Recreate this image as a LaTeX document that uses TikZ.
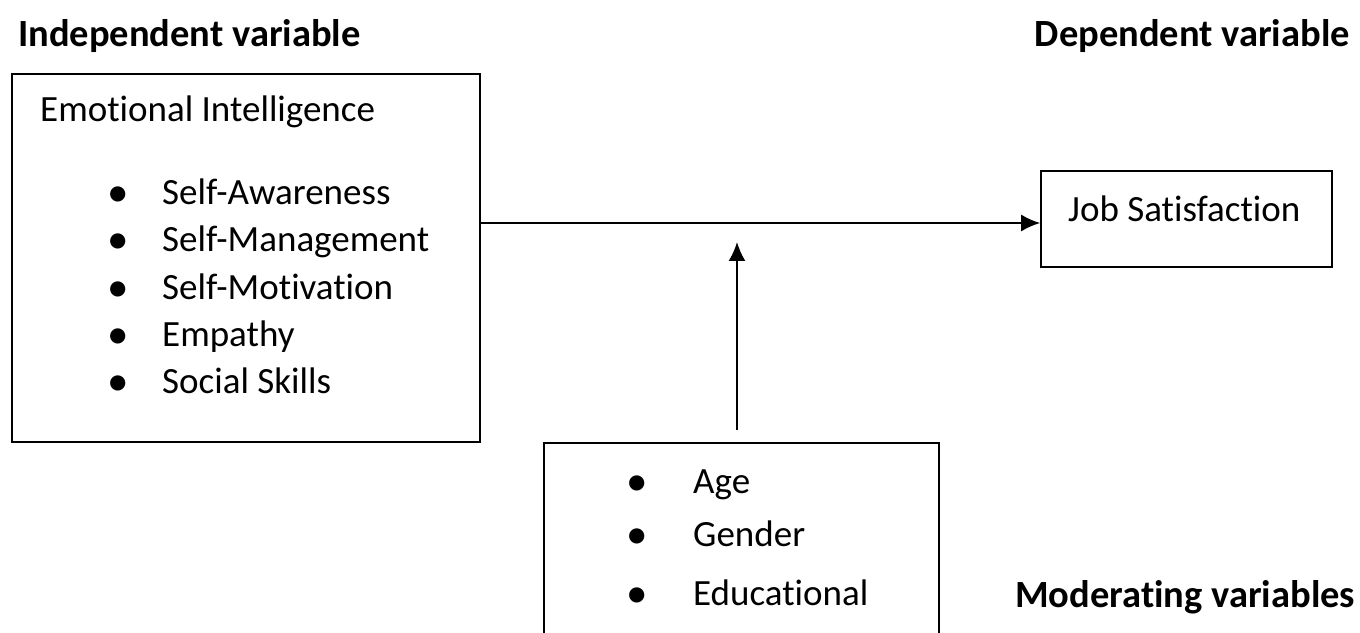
\documentclass[tikz,border=0pt]{standalone}
\usepackage{fontspec}
\setmainfont{Carlito}[Ligatures=NoCommon]
\usetikzlibrary{arrows.meta,positioning}
\newcommand{\bigdot}{\raisebox{-2pt}{\fontsize{43}{43}\selectfont\textbullet}}

\begin{document}
\begin{tikzpicture}[x=1pt,y=1pt,node distance={47pt},
    box/.style={draw, line width=1.6pt, inner sep=0pt},
    dot/.style={inner sep=0pt, anchor=base, font=\fontsize{37}{44}\selectfont},
    item/.style={inner sep=0pt, anchor=base west, font=\fontsize{37}{44}\selectfont},
    head/.style={inner sep=0pt, font=\fontsize{38.5}{46}\selectfont\bfseries},
    link/.style={line width=2pt, -{Latex[length=19pt,width=17pt]}}]
    \clip (0,0) rectangle (1360,632);

    \node[head, anchor=base west] (hind) at (18,585) {Independent variable};
    \node[head, anchor=base east] (hdep) at (1350,585) {Dependent variable};
    \node[head, anchor=base west] (hmod) at (1015,25) {Moderating variables};

    \node[box, minimum width=468pt, minimum height=368pt] (ind) at (246,374) {};
    \node[item] (ei) at (40,510) {Emotional Intelligence};

    \node[dot] (d1) at (118,427) {\bigdot};
    \node[dot] (d2) [below of=d1] {\bigdot};
    \node[dot] (d3) [below of=d2, yshift=-1pt] {\bigdot};
    \node[dot] (d4) [below of=d3] {\bigdot};
    \node[dot] (d5) [below of=d4] {\bigdot};
    \node[item] (t1) at ([xshift=44pt]d1.base) {Self-Awareness};
    \node[item] (t2) at ([xshift=44pt]d2.base) {Self-Management};
    \node[item] (t3) at ([xshift=44pt]d3.base) {Self-Motivation};
    \node[item] (t4) at ([xshift=44pt]d4.base) {Empathy};
    \node[item] (t5) at ([xshift=44pt]d5.base) {Social Skills};

    \node[box, minimum width=291pt, minimum height=96pt] (dep) at (1186.5,413) {};
    \node[item] (js) at (1068,410) {Job Satisfaction};

    \node[box, minimum width=395pt, minimum height=249pt] (mod) at (741.5,64.5) {};
    \node[dot] (m1) at (637,138) {\bigdot};
    \node[dot] (m2) [below of=m1, yshift=-6pt] {\bigdot};
    \node[dot] (m3) [below of=m2, yshift=-11pt] {\bigdot};
    \node[item] (a1) at ([xshift=56pt]m1.base) {Age};
    \node[item] (a2) at ([xshift=56pt]m2.base) {Gender};
    \node[item] (a3) at ([xshift=56pt]m3.base) {Educational};

    \coordinate (meet) at (737,409);
    \coordinate (tip) at (737,390);
    \coordinate (foot) at (737,202);

    \draw[link] (ind.east |- meet) -- (dep.west |- meet);
    \draw[link] (foot) -- (tip);
\end{tikzpicture}
\end{document}
